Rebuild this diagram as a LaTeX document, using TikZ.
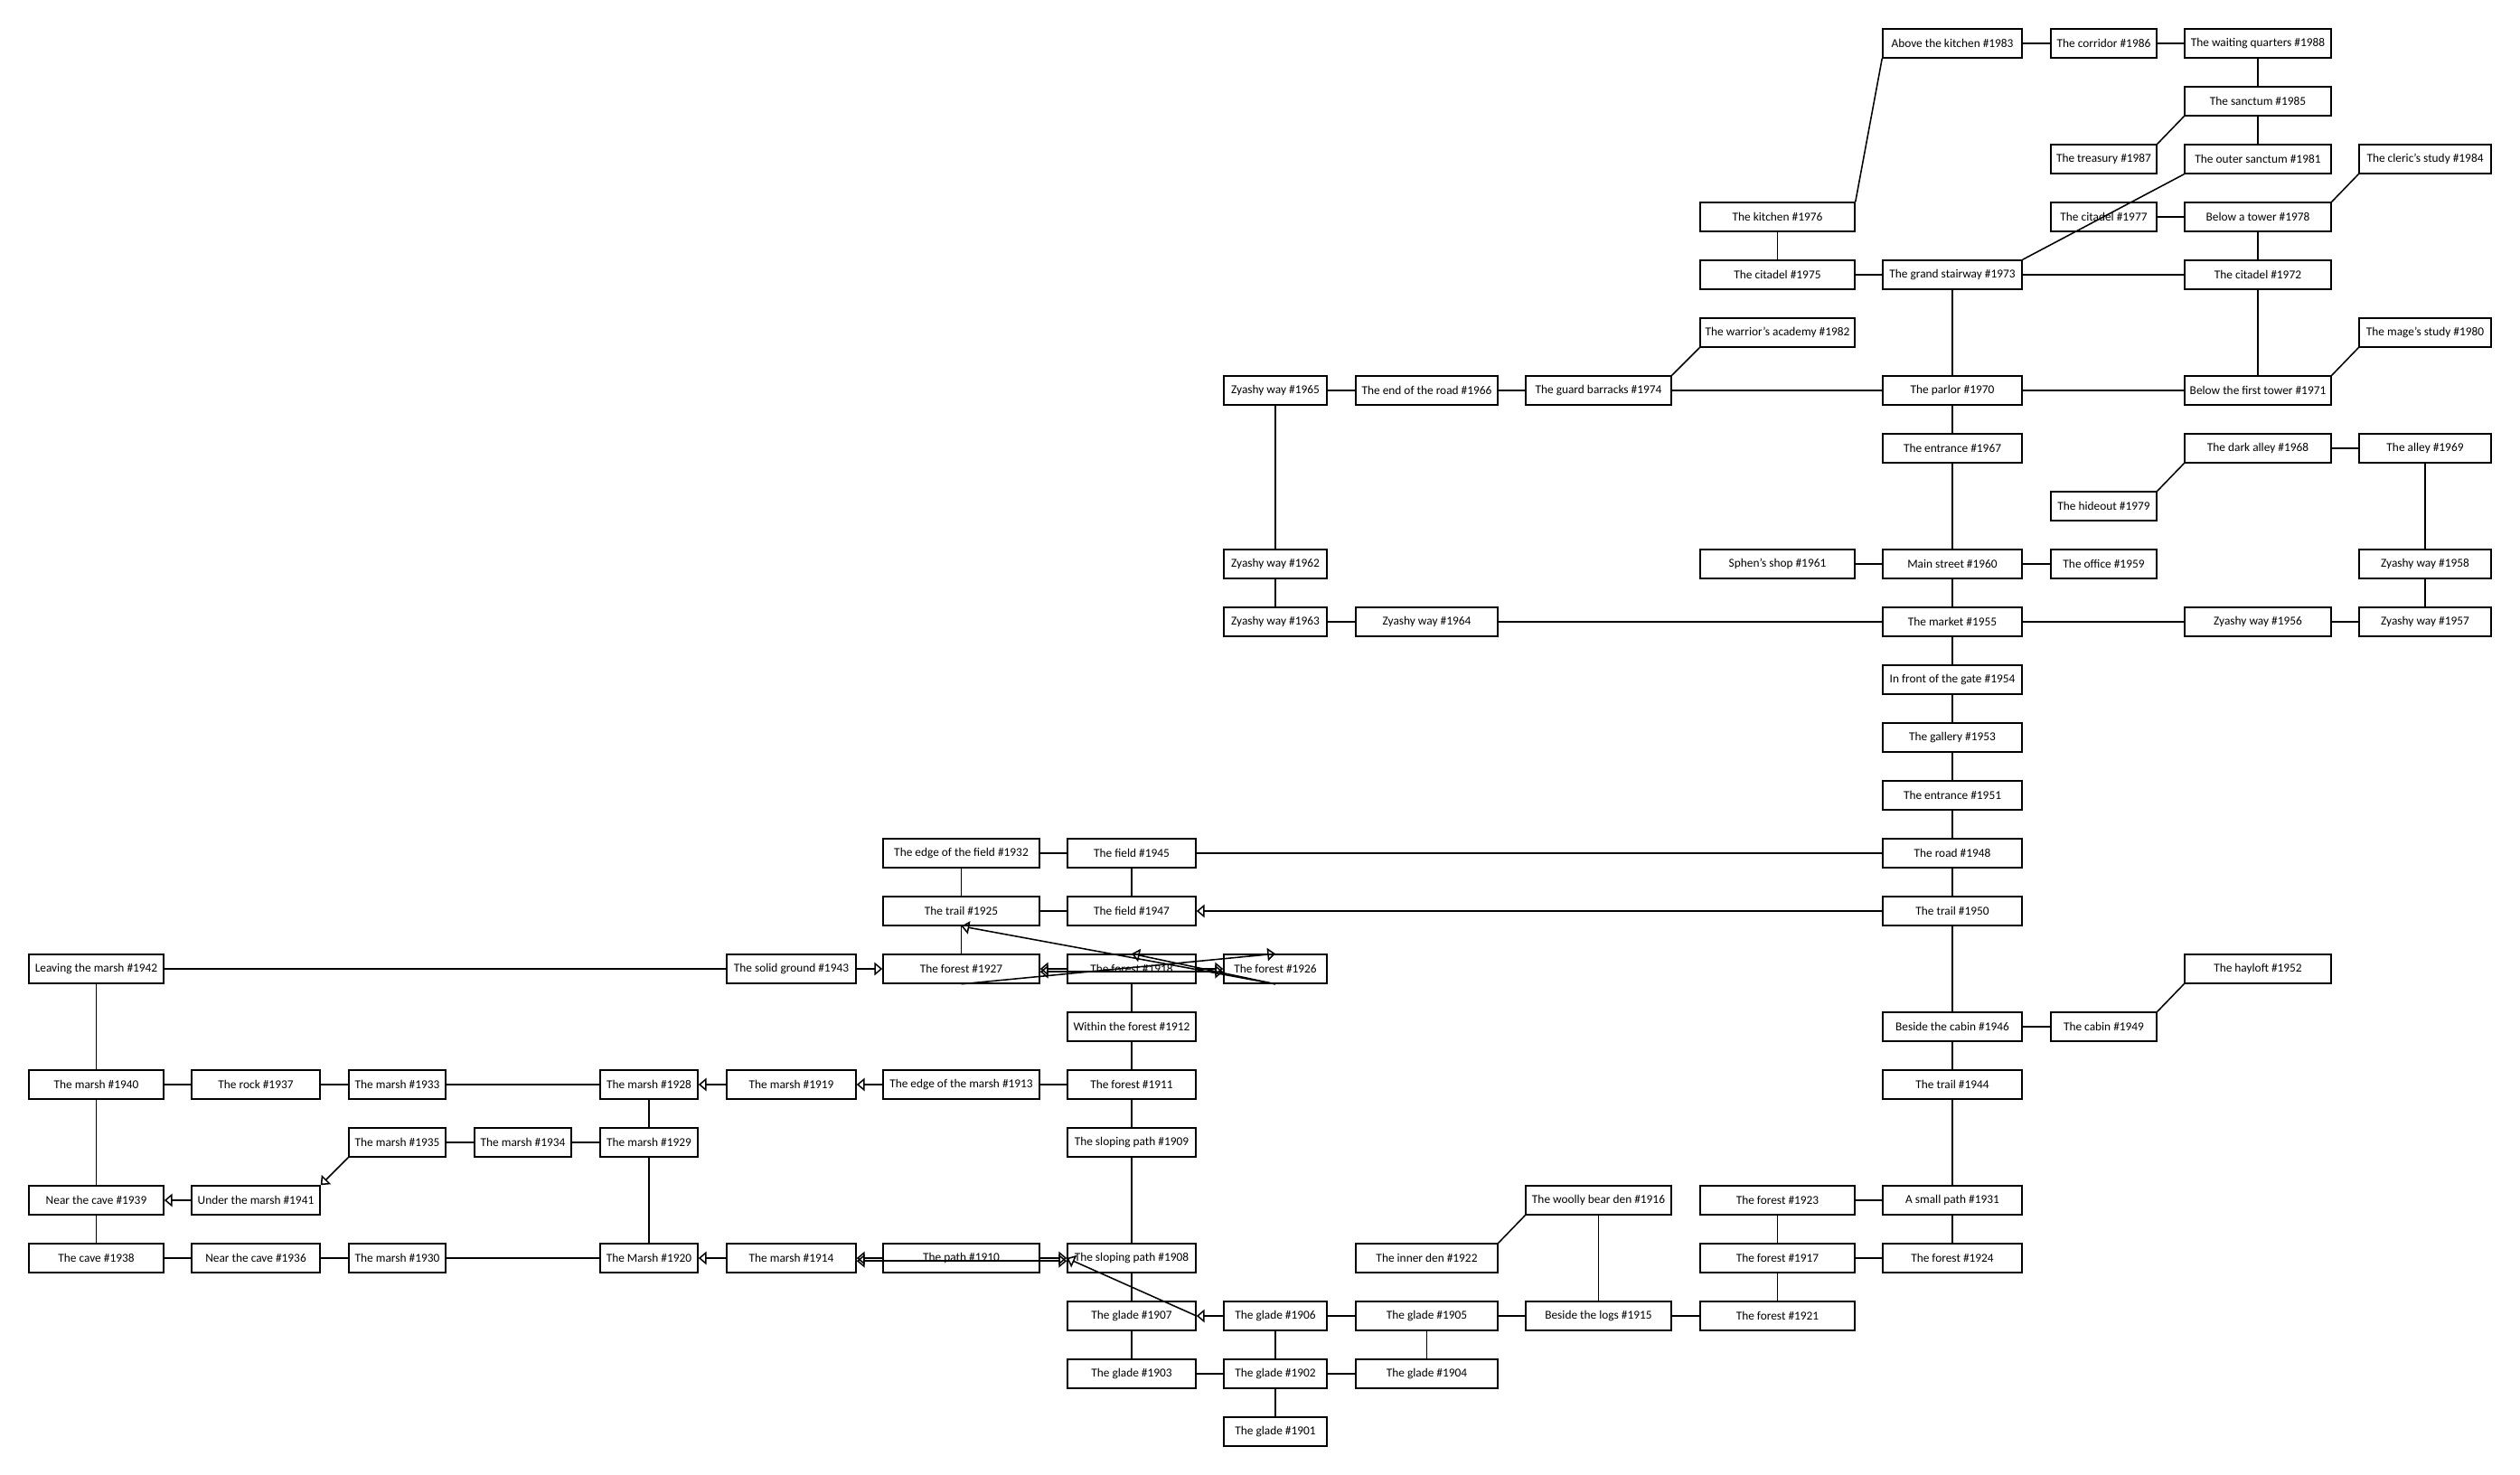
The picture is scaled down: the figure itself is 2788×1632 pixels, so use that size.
\documentclass[tikz,border=0pt]{standalone}
\usepackage{fontspec}
\setmainfont{Carlito}
\usepackage{tikz}
\usetikzlibrary{
    arrows.meta,
    positioning
}

\begin{document}
\begin{tikzpicture}[x=0.25mm, y=-0.25mm,
        room/.style={draw, rectangle, line width=1.1pt, minimum height=8mm, inner sep=0.5mm,
            font=\fontsize{9.5}{11}\selectfont},
        colA/.style={room, minimum width=37.25mm},
        colB/.style={room, minimum width=35.5mm},
        colC/.style={room, minimum width=26.75mm},
        colD/.style={room, minimum width=26.75mm},
        colE/.style={room, minimum width=27mm},
        colF/.style={room, minimum width=35.75mm},
        colG/.style={room, minimum width=43.25mm},
        colH/.style={room, minimum width=35.5mm},
        colI/.style={room, minimum width=28.5mm},
        colJ/.style={room, minimum width=39.25mm},
        colK/.style={room, minimum width=40.25mm},
        colL/.style={room, minimum width=42.75mm},
        colM/.style={room, minimum width=38.5mm},
        colN/.style={room, minimum width=29.25mm},
        colO/.style={room, minimum width=40.5mm},
        colP/.style={room, minimum width=36.5mm},
        >={Triangle[open, length=2.2mm, width=3.6mm]}]

    \useasboundingbox (0, 0) rectangle (2788, 1632);

    % the castle and the town
    \node[colM] (n1983) at (2160, 48) {Above the kitchen \#1983};
    \node[colN] (n1986) at (2327.5, 48) {The corridor \#1986};
    \node[colO] (n1988) at (2498, 48) {The waiting quarters \#1988};
    \node[colO] (n1985) at (2498, 112) {The sanctum \#1985};
    \node[colN] (n1987) at (2327.5, 176) {The treasury \#1987};
    \node[colO] (n1981) at (2498, 176) {The outer sanctum \#1981};
    \node[colP] (n1984) at (2683, 176) {The cleric's study \#1984};
    \node[colL] (n1976) at (1966.5, 240) {The kitchen \#1976};
    \node[colN] (n1977) at (2327.5, 240) {The citadel \#1977};
    \node[colO] (n1978) at (2498, 240) {Below a tower \#1978};
    \node[colL] (n1975) at (1966.5, 304) {The citadel \#1975};
    \node[colM] (n1973) at (2160, 304) {The grand stairway \#1973};
    \node[colO] (n1972) at (2498, 304) {The citadel \#1972};
    \node[colL] (n1982) at (1966.5, 368) {The warrior's academy \#1982};
    \node[colP] (n1980) at (2683, 368) {The mage's study \#1980};
    \node[colI] (n1965) at (1411, 432) {Zyashy way \#1965};
    \node[colJ] (n1966) at (1578.5, 432) {The end of the road \#1966};
    \node[colK] (n1974) at (1768.5, 432) {The guard barracks \#1974};
    \node[colM] (n1970) at (2160, 432) {The parlor \#1970};
    \node[colO] (n1971) at (2498, 432) {Below the first tower \#1971};
    \node[colM] (n1967) at (2160, 496) {The entrance \#1967};
    \node[colO] (n1968) at (2498, 496) {The dark alley \#1968};
    \node[colP] (n1969) at (2683, 496) {The alley \#1969};
    \node[colN] (n1979) at (2327.5, 560) {The hideout \#1979};
    \node[colI] (n1962) at (1411, 624) {Zyashy way \#1962};
    \node[colL] (n1961) at (1966.5, 624) {Sphen's shop \#1961};
    \node[colM] (n1960) at (2160, 624) {Main street \#1960};
    \node[colN] (n1959) at (2327.5, 624) {The office \#1959};
    \node[colP] (n1958) at (2683, 624) {Zyashy way \#1958};
    \node[colI] (n1963) at (1411, 688) {Zyashy way \#1963};
    \node[colJ] (n1964) at (1578.5, 688) {Zyashy way \#1964};
    \node[colM] (n1955) at (2160, 688) {The market \#1955};
    \node[colO] (n1956) at (2498, 688) {Zyashy way \#1956};
    \node[colP] (n1957) at (2683, 688) {Zyashy way \#1957};
    \node[colM] (n1954) at (2160, 752) {In front of the gate \#1954};
    \node[colM] (n1953) at (2160, 816) {The gallery \#1953};
    \node[colM] (n1951) at (2160, 880) {The entrance \#1951};

    % fields and forest
    \node[colG] (n1932) at (1063.5, 944) {The edge of the field \#1932};
    \node[colH] (n1945) at (1252, 944) {The field \#1945};
    \node[colM] (n1948) at (2160, 944) {The road \#1948};
    \node[colG] (n1925) at (1063.5, 1008) {The trail \#1925};
    \node[colH] (n1947) at (1252, 1008) {The field \#1947};
    \node[colM] (n1950) at (2160, 1008) {The trail \#1950};
    \node[colA] (n1942) at (106.5, 1072) {Leaving the marsh \#1942};
    \node[colF] (n1943) at (875.5, 1072) {The solid ground \#1943};
    \node[colG] (n1927) at (1063.5, 1072) {The forest \#1927};
    \node[colH] (n1918) at (1252, 1072) {The forest \#1918};
    \node[colI] (n1926) at (1411, 1072) {The forest \#1926};
    \node[colO] (n1952) at (2498, 1072) {The hayloft \#1952};
    \node[colH] (n1912) at (1252, 1136) {Within the forest \#1912};
    \node[colM] (n1946) at (2160, 1136) {Beside the cabin \#1946};
    \node[colN] (n1949) at (2327.5, 1136) {The cabin \#1949};

    % marsh and glades
    \node[colA] (n1940) at (106.5, 1200) {The marsh \#1940};
    \node[colB] (n1937) at (283, 1200) {The rock \#1937};
    \node[colC] (n1933) at (439.5, 1200) {The marsh \#1933};
    \node[colE] (n1928) at (718, 1200) {The marsh \#1928};
    \node[colF] (n1919) at (875.5, 1200) {The marsh \#1919};
    \node[colG] (n1913) at (1063.5, 1200) {The edge of the marsh \#1913};
    \node[colH] (n1911) at (1252, 1200) {The forest \#1911};
    \node[colM] (n1944) at (2160, 1200) {The trail \#1944};
    \node[colC] (n1935) at (439.5, 1264) {The marsh \#1935};
    \node[colD] (n1934) at (578.5, 1264) {The marsh \#1934};
    \node[colE] (n1929) at (718, 1264) {The marsh \#1929};
    \node[colH] (n1909) at (1252, 1264) {The sloping path \#1909};
    \node[colA] (n1939) at (106.5, 1328) {Near the cave \#1939};
    \node[colB] (n1941) at (283, 1328) {Under the marsh \#1941};
    \node[colK] (n1916) at (1768.5, 1328) {The woolly bear den \#1916};
    \node[colL] (n1923) at (1966.5, 1328) {The forest \#1923};
    \node[colM] (n1931) at (2160, 1328) {A small path \#1931};
    \node[colA] (n1938) at (106.5, 1392) {The cave \#1938};
    \node[colB] (n1936) at (283, 1392) {Near the cave \#1936};
    \node[colC] (n1930) at (439.5, 1392) {The marsh \#1930};
    \node[colE] (n1920) at (718, 1392) {The Marsh \#1920};
    \node[colF] (n1914) at (875.5, 1392) {The marsh \#1914};
    \node[colG] (n1910) at (1063.5, 1392) {The path \#1910};
    \node[colH] (n1908) at (1252, 1392) {The sloping path \#1908};
    \node[colJ] (n1922) at (1578.5, 1392) {The inner den \#1922};
    \node[colL] (n1917) at (1966.5, 1392) {The forest \#1917};
    \node[colM] (n1924) at (2160, 1392) {The forest \#1924};
    \node[colH] (n1907) at (1252, 1456) {The glade \#1907};
    \node[colI] (n1906) at (1411, 1456) {The glade \#1906};
    \node[colJ] (n1905) at (1578.5, 1456) {The glade \#1905};
    \node[colK] (n1915) at (1768.5, 1456) {Beside the logs \#1915};
    \node[colL] (n1921) at (1966.5, 1456) {The forest \#1921};
    \node[colH] (n1903) at (1252, 1520) {The glade \#1903};
    \node[colI] (n1902) at (1411, 1520) {The glade \#1902};
    \node[colJ] (n1904) at (1578.5, 1520) {The glade \#1904};
    \node[colI] (n1901) at (1411, 1584) {The glade \#1901};

    % two-way exits
    \draw[line width=1.1pt]
    (n1983) edge (n1986)
    (n1986) edge (n1988)
    (n1988) edge (n1985)
    (n1985) edge (n1981)
    (n1985.south west) edge (n1987.north east)
    (n1981.south west) edge (n1973.north east)
    (n1983.south west) edge (n1976.north east)
    (n1977) edge (n1978)
    (n1978.north east) edge (n1984.south west)
    (n1978) edge (n1972)
    (n1976) edge (n1975)
    (n1975) edge (n1973)
    (n1973) edge (n1972)
    (n1973) edge (n1970)
    (n1972) edge (n1971)
    (n1970) edge (n1971)
    (n1971.north east) edge (n1980.south west)
    (n1974.north east) edge (n1982.south west)
    (n1965) edge (n1966)
    (n1966) edge (n1974)
    (n1974) edge (n1970)
    (n1970) edge (n1967)
    (n1967) edge (n1960)
    (n1968) edge (n1969)
    (n1968.south west) edge (n1979.north east)
    (n1969) edge (n1958)
    (n1965) edge (n1962)
    (n1962) edge (n1963)
    (n1963) edge (n1964)
    (n1964) edge (n1955)
    (n1961) edge (n1960)
    (n1960) edge (n1959)
    (n1960) edge (n1955)
    (n1958) edge (n1957)
    (n1955) edge (n1956)
    (n1956) edge (n1957)
    (n1955) edge (n1954)
    (n1954) edge (n1953)
    (n1953) edge (n1951)
    (n1951) edge (n1948)
    (n1945) edge (n1948)
    (n1948) edge (n1950)
    (n1950) edge (n1946)
    (n1946) edge (n1949)
    (n1949.north east) edge (n1952.south west)
    (n1946) edge (n1944)
    (n1944) edge (n1931)
    (n1923) edge (n1931)
    (n1931) edge (n1924)
    (n1923) edge (n1917)
    (n1917) edge (n1924)
    (n1917) edge (n1921)
    (n1915) edge (n1921)
    (n1916) edge (n1915)
    (n1916.south west) edge (n1922.north east)
    (n1906) edge (n1905)
    (n1905) edge (n1915)
    (n1905) edge (n1904)
    (n1906) edge (n1902)
    (n1903) edge (n1902)
    (n1902) edge (n1904)
    (n1902) edge (n1901)
    (n1907) edge (n1903)
    (n1908) edge (n1907)
    (n1909) edge (n1908)
    (n1911) edge (n1909)
    (n1912) edge (n1911)
    (n1918) edge (n1912)
    (n1913) edge (n1911)
    (n1932) edge (n1945)
    (n1932) edge (n1925)
    (n1945) edge (n1947)
    (n1925) edge (n1947)
    (n1925) edge (n1927)
    (n1942) edge (n1943)
    (n1942) edge (n1940)
    (n1940) edge (n1937)
    (n1937) edge (n1933)
    (n1933) edge (n1928)
    (n1928) edge (n1929)
    (n1935) edge (n1934)
    (n1934) edge (n1929)
    (n1929) edge (n1920)
    (n1940) edge (n1939)
    (n1939) edge (n1938)
    (n1938) edge (n1936)
    (n1936) edge (n1930)
    (n1930) edge (n1920);

    % one-way exits
    \draw[line width=1.1pt]
    (n1950) edge[->] (n1947)
    (n1943) edge[->] (n1927)
    (n1918) edge[->] (n1927)
    (n1918) edge[->] (n1926)
    ([yshift=-0.8mm]n1927.east) edge[<->] ([yshift=-0.8mm]n1926.west)
    (n1927.south) edge[->] (n1926.north)
    (n1926.south) edge[->] (n1925.south)
    (n1926.south) edge[->] (n1918.north)
    (n1919) edge[->] (n1928)
    (n1913) edge[->] (n1919)
    (n1941) edge[->] (n1939)
    (n1935.south west) edge[->] (n1941.north east)
    (n1914) edge[->] (n1920)
    (n1910) edge[->] (n1914)
    (n1910) edge[->] (n1908)
    ([yshift=-0.8mm]n1914.east) edge[<->] ([yshift=-0.8mm]n1908.west)
    (n1906) edge[->] (n1907)
    (n1907.east) edge[->] (n1908.west);
\end{tikzpicture}
\end{document}
